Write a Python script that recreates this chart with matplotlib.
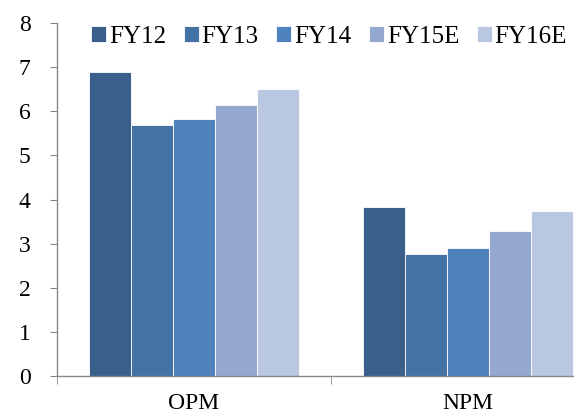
import matplotlib.pyplot as plt
import numpy as np

# Margins (%)
categories = ['OPM', 'NPM']
series = ['FY12', 'FY13', 'FY14', 'FY15E', 'FY16E']
values = {
    'FY12': [6.9, 3.82],
    'FY13': [5.68, 2.76],
    'FY14': [5.83, 2.89],
    'FY15E': [6.15, 3.28],
    'FY16E': [6.5, 3.73],
}
colors = ['#3A5F8B', '#4472A5', '#4F81BD', '#95A9D0', '#BAC7E0']

plt.rcParams['font.family'] = ['Liberation Serif', 'DejaVu Serif']

fig = plt.figure(figsize=(5.74, 4.17), dpi=100)
# plot area runs past the right edge, as in the original
ax = fig.add_axes([57 / 574, 41 / 417, 548 / 574, 353 / 417])

x = np.arange(len(categories))
bw = 0.154
for i, s in enumerate(series):
    ax.bar(x - 2 * bw + i * bw, values[s], width=bw, color=colors[i],
           edgecolor='white', linewidth=0.6, label=s)

ax.set_xlim(-0.5, 1.5)
ax.set_ylim(0, 8)
ax.set_yticks(range(0, 9))
ax.set_xticks(x)
ax.set_xticklabels(categories)
ax.set_xticks([-0.5, 0.5, 1.5], minor=True)

for side in ['top', 'right']:
    ax.spines[side].set_visible(False)
for side in ['left', 'bottom']:
    ax.spines[side].set_color('#888888')
    ax.spines[side].set_linewidth(1)

ax.tick_params(axis='y', length=5, color='#888888', labelsize=17, pad=14)
ax.tick_params(axis='x', which='major', length=0, labelsize=17, pad=12)
ax.tick_params(axis='x', which='minor', length=6, color='#888888')

fig.legend(loc='center', bbox_to_anchor=(329 / 574, 1 - 37 / 417), ncol=5,
           frameon=False, fontsize=18, handlelength=0.6, handleheight=0.6,
           handletextpad=0.12, columnspacing=0.7, borderaxespad=0)

plt.savefig('out.png', dpi=100)
